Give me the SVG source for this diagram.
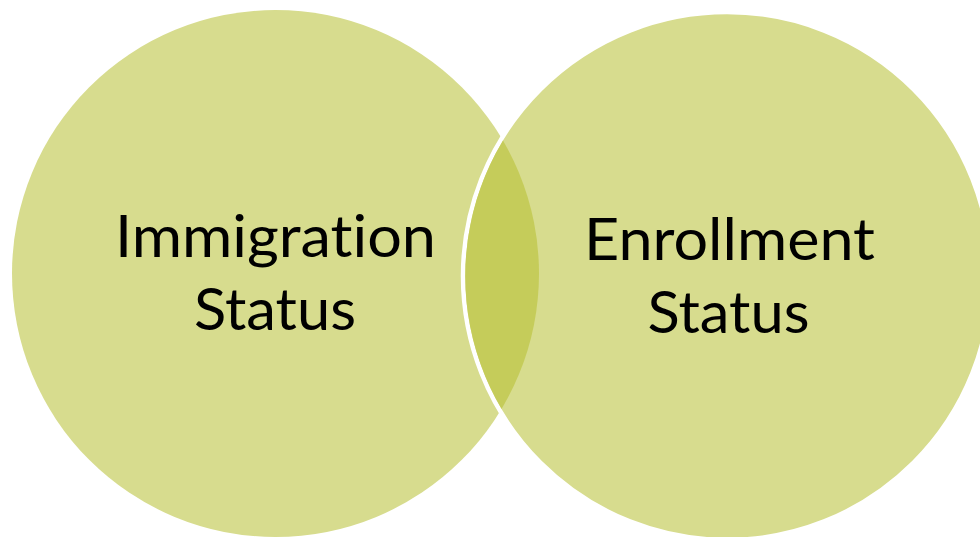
<svg xmlns="http://www.w3.org/2000/svg" width="980" height="537" viewBox="0 0 980 537">
  <style>
    .set { fill: #d7dc8e; }
    .set-top { fill: #d7dc8e; stroke: #ffffff; stroke-width: 4.5; }
    .lens { fill: #c5cc5a; }
    .label { font-family: "Lato", "Open Sans", "Liberation Sans", sans-serif; font-size: 58px; fill: #000000; text-anchor: middle; font-variant-ligatures: none; font-feature-settings: "liga" 0, "clig" 0; }
  </style>
  <defs>
    <clipPath id="clipLeft">
      <circle cx="275.5" cy="273.5" r="263.5"/>
    </clipPath>
  </defs>
  <rect x="0" y="0" width="980" height="537" fill="#ffffff"/>
  <g id="node-immigration">
    <circle class="set" cx="275.5" cy="273.5" r="263.5"/>
    <text class="label" x="275.5" y="257" textLength="321" lengthAdjust="spacingAndGlyphs">Immigration</text>
    <text class="label" x="275" y="330" textLength="162" lengthAdjust="spacingAndGlyphs">Status</text>
  </g>
  <g id="node-enrollment">
    <circle class="set-top" cx="727" cy="276" r="264"/>
    <text class="label" x="729.5" y="260" textLength="291" lengthAdjust="spacingAndGlyphs">Enrollment</text>
    <text class="label" x="728.5" y="333" textLength="162" lengthAdjust="spacingAndGlyphs">Status</text>
  </g>
  <g id="overlap">
    <circle class="lens" cx="727" cy="276" r="261.75" clip-path="url(#clipLeft)"/>
  </g>
</svg>
